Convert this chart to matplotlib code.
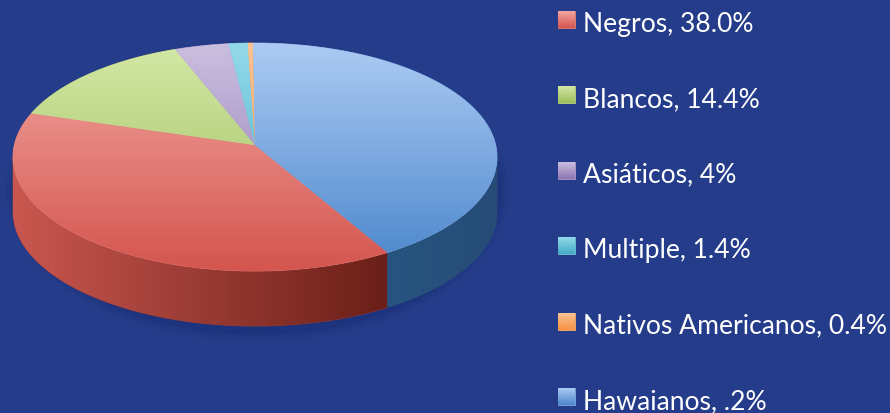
import numpy as np
import matplotlib
matplotlib.use("Agg")
import matplotlib.pyplot as plt
from matplotlib.patches import Polygon, Ellipse
from matplotlib.colors import to_rgb

# ---- data ----
categories = ["Negros", "Blancos", "Asiáticos", "Multiple", "Nativos Americanos", "Hawaianos"]
values = [38.0, 14.4, 4.0, 1.4, 0.4, 41.8]
legend_labels = ["Negros, 38.0%", "Blancos, 14.4%", "Asiáticos, 4%",
                 "Multiple, 1.4%", "Nativos Americanos, 0.4%", "Hawaianos, .2%"]

# ---- styles ----
top_light = ["#F3A6A2", "#D4E8A6", "#CBBFE0", "#93D9EA", "#FBC394", "#ADCBF3"]
top_dark = ["#D4554E", "#9BBD5A", "#8D75B0", "#45AAC6", "#F59142", "#4A86CC"]
side_left = ["#C9574F", "#7E9A44", "#6A5590", "#2F8BA6", "#D67A30", "#27557F"]
side_right = ["#6A1F18", "#5E7530", "#4B3C6A", "#1E6A80", "#A05A20", "#264B77"]
BG = "#243C8A"

W, H = 890, 413
fig = plt.figure(figsize=(W / 100, H / 100), dpi=100)
fig.patch.set_facecolor(BG)
ax = fig.add_axes([0, 0, 1, 1])
ax.set_facecolor(BG)
ax.axis("off")

cx, cy, a, b, depth = 255, 157, 242, 114, 55
kpersp = 0.105  # perspective shift of the pie centre toward the far edge
startangle = -60
fr = np.array(values) / np.sum(values)
bounds = startangle - 360 * np.concatenate([[0], np.cumsum(fr)])


def mix(c1, c2, s=0.5):
    return tuple((1 - s) * np.array(to_rgb(c1)) + s * np.array(to_rgb(c2)))


def grad_fill(xy, c1, c2, direction, rng, zorder):
    base = Polygon(xy, closed=True, facecolor=mix(c1, c2), edgecolor=mix(c1, c2),
                   linewidth=0.6, zorder=zorder - 0.5)
    ax.add_patch(base)
    patch = Polygon(xy, closed=True, facecolor="none", edgecolor="none")
    ax.add_patch(patch)
    x0, y0 = xy.min(0)
    x1, y1 = xy.max(0)
    n = 256
    c1 = np.array(to_rgb(c1))
    c2 = np.array(to_rgb(c2))
    if direction == "v":
        ys = np.linspace(y0, y1, n)
        s = np.clip((ys - rng[0]) / (rng[1] - rng[0]), 0, 1)
        img = ((1 - s)[:, None] * c1 + s[:, None] * c2)[:, None, :]
    else:
        xs = np.linspace(x0, x1, n)
        s = np.clip((xs - rng[0]) / (rng[1] - rng[0]), 0, 1)
        img = ((1 - s)[:, None] * c1 + s[:, None] * c2)[None, :, :]
    im = ax.imshow(img, extent=(x0, x1, y1, y0), origin="upper", aspect="auto",
                   interpolation="bilinear", zorder=zorder)
    im.set_clip_path(patch)


def proj(t_deg, dy=0):
    t = np.radians(t_deg)
    x, y = np.cos(t), np.sin(t)
    d = 1 + kpersp * y
    xp = x * np.sqrt(1 - kpersp ** 2) / d
    yp = (y + kpersp) / d
    return np.column_stack([cx + a * xp, cy - b * yp + dy])


centre = np.array([cx, cy - b * kpersp])

# soft shadow
for k, al in enumerate([0.10, 0.08, 0.06]):
    grow = 3 + 3 * k
    ax.add_patch(Ellipse((cx + 2, cy + depth / 2 + 6), 2 * a + 2 * grow, 2 * b + depth + 2 * grow,
                         facecolor="#0E1E55", edgecolor="none", alpha=al, zorder=0))

# sides (front, visible part)
edge = np.degrees(np.arcsin(kpersp))
for i in range(len(values)):
    hi, lo = bounds[i], bounds[i + 1]
    for k in (-1, 0, 1):
        vlo, vhi = -180 + edge + 360 * k, -edge + 360 * k
        s0, s1 = max(lo, vlo), min(hi, vhi)
        if s1 - s0 > 0.05:
            ts = np.linspace(s0, s1, 150)
            top = proj(ts)
            bot = proj(ts[::-1], depth)
            xy = np.vstack([top, bot])
            xs = xy[:, 0]
            grad_fill(xy, side_left[i], side_right[i], "h", (xs.min(), xs.max()), 2)

# top faces
for i in range(len(values)):
    hi, lo = bounds[i], bounds[i + 1]
    ts = np.linspace(hi, lo, max(3, int((hi - lo) * 2)))
    xy = np.vstack([centre, proj(ts)])
    grad_fill(xy, top_light[i], top_dark[i], "v", (cy - b, cy + b), 3)

# legend
row0, step = 32, 75.4
fs = 19
texts = []
for i, lab in enumerate(legend_labels):
    yb = row0 + step * i
    sq = np.array([[558, yb - 21], [575, yb - 21], [575, yb - 4], [558, yb - 4]], dtype=float)
    grad_fill(sq, top_light[i], top_dark[i], "v", (yb - 21, yb - 4), 4)
    t = ax.text(583, yb, lab, color="white", fontsize=fs, family=["Lato", "DejaVu Sans"],
                va="baseline", ha="left", zorder=5)
    texts.append(t)

fig.canvas.draw()
r = fig.canvas.get_renderer()
wmax = max(t.get_window_extent(r).width for t in texts)
scale = 304 / wmax
for t in texts:
    t.set_fontsize(fs * scale)

ax.set_xlim(0, W)
ax.set_ylim(H, 0)
fig.savefig("out.png", dpi=100, facecolor=BG)
